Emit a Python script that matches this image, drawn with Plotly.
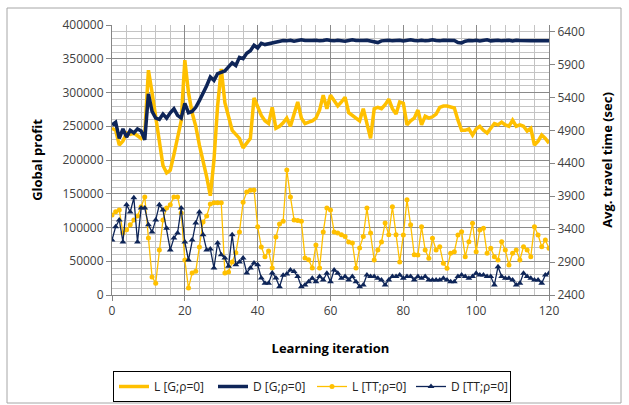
import plotly.graph_objects as go

iterations = list(range(121))

# Global profit, learning agents (L) and default agents (D)
profit_L = [
    247000, 244000, 222000, 228000, 240000, 238000, 240000, 236000, 232000, 240000,
    333000, 300000, 262000, 232000, 192000, 181000, 185000, 208000, 232000, 258000,
    348000, 300000, 270000, 250000, 222000, 200000, 175000, 147000, 200000, 280000,
    335000, 285000, 265000, 244000, 238000, 232000, 218000, 226000, 232000, 292000,
    280000, 266000, 258000, 254000, 278000, 247000, 250000, 255000, 262000, 250000,
    268000, 286000, 262000, 254000, 256000, 258000, 262000, 274000, 296000, 276000,
    296000, 288000, 280000, 286000, 293000, 270000, 266000, 262000, 258000, 276000,
    252000, 232000, 276000, 278000, 276000, 282000, 290000, 276000, 268000, 286000,
    284000, 252000, 258000, 262000, 274000, 252000, 265000, 262000, 264000, 268000,
    278000, 280000, 280000, 279000, 277000, 259000, 244000, 244000, 246000, 237000,
    246000, 250000, 244000, 240000, 247000, 254000, 252000, 256000, 252000, 250000,
    259000, 250000, 252000, 250000, 243000, 247000, 222000, 228000, 237000, 232000,
    225000,
]
profit_D = [
    252000, 256000, 232000, 246000, 234000, 244000, 240000, 246000, 243000, 230000,
    298000, 272000, 262000, 260000, 268000, 262000, 270000, 276000, 266000, 262000,
    284000, 270000, 272000, 278000, 288000, 298000, 310000, 323000, 318000, 328000,
    330000, 332000, 338000, 344000, 340000, 352000, 350000, 358000, 362000, 370000,
    366000, 373000, 371000, 372000, 374000, 374000, 375000, 377000, 376500, 377500,
    376000, 377000, 378000, 377000, 376500, 377000, 377500, 376500, 377000, 378000,
    377000, 376500, 377500, 377000, 376000, 377000, 378000, 377000, 376500, 377000,
    377500, 376500, 375000, 374000, 376500, 377000, 377500, 376500, 377000, 377500,
    376500, 377000, 378000, 377000, 376500, 377500, 376500, 377000, 378000, 377000,
    376500, 377500, 377000, 376500, 377000, 374000, 373500, 376000, 377000, 376500,
    377500, 376500, 377000, 378000, 376500, 377000, 377500, 376500, 377000, 377500,
    376500, 377500, 377000, 376500, 376500, 376500, 376500, 376500, 376500, 376500,
    376500,
]

# Average travel time in seconds
travel_L = [
    3615, 3665, 3690, 3340, 3390, 3465, 3540, 3600, 3740, 3890,
    3265, 2675, 2580, 3085, 3540, 3720, 3770, 3890, 3890, 3645,
    2930, 2505, 2735, 2760, 3130, 3510, 3600, 3780, 3800, 3800,
    3800, 2735, 2750, 2900, 3040, 3355, 3810, 3965, 3990, 3995,
    3435, 3130, 2980, 3070, 2810, 3280, 3480, 3520, 4300, 3890,
    3540, 3530, 3520, 2960, 2935, 2810, 3160, 2810, 3355, 3720,
    3690, 3355, 3340, 3315, 3290, 3205, 3190, 2810, 3115, 3290,
    3720, 3340, 2930, 3085, 3205, 3495, 3315, 3740, 3315, 2900,
    3310, 3845, 3465, 3010, 3008, 3438, 3083, 2957, 3261, 3083,
    3134, 2881, 2805, 3033, 3058, 3311, 3362, 2982, 3210, 3489,
    3058, 3387, 3413, 3033, 3109, 2982, 2932, 3210, 3083, 2856,
    3033, 3083, 2932, 3134, 3083, 2982, 3438, 3311, 3134, 3235,
    3109,
]
travel_D = [
    3235, 3435, 3540, 3205, 3770, 3660, 3875, 3205, 3720, 3720,
    3465, 3355, 3540, 3770, 3690, 3415, 3085, 3265, 3340, 3720,
    3205, 2930, 3235, 3495, 3660, 3315, 3085, 3100, 2810, 3190,
    3010, 2960, 2835, 3315, 2860, 2900, 2960, 2735, 2810, 2885,
    2860, 2660, 2580, 2580, 2735, 2660, 2526, 2700, 2720, 2780,
    2755, 2680, 2526, 2552, 2600, 2653, 2602, 2680, 2628, 2730,
    2602, 2780, 2730, 2653, 2680, 2628, 2680, 2602, 2526, 2552,
    2704, 2680, 2680, 2653, 2628, 2552, 2628, 2680, 2680, 2704,
    2653, 2680, 2680, 2628, 2680, 2653, 2680, 2628, 2628, 2628,
    2628, 2653, 2628, 2602, 2602, 2680, 2704, 2680, 2653, 2680,
    2730, 2704, 2704, 2680, 2680, 2552, 2830, 2680, 2653, 2653,
    2628, 2552, 2577, 2730, 2680, 2653, 2628, 2628, 2577, 2704,
    2730,
]

names = ["L [G;ρ=0]", "D [G;ρ=0]", "L [TT;ρ=0]", "D [TT;ρ=0]"]
x_ticks = [0, 20, 40, 60, 80, 100, 120]

GOLD = "#FFC000"
NAVY = "#0E2558"
FONT = "Open Sans"

fig = go.Figure()
fig.add_trace(go.Scatter(x=iterations, y=profit_L, name=names[0], mode="lines",
                         line=dict(color=GOLD, width=3.5)))
fig.add_trace(go.Scatter(x=iterations, y=profit_D, name=names[1], mode="lines",
                         line=dict(color=NAVY, width=3.5)))
fig.add_trace(go.Scatter(x=iterations, y=travel_L, name=names[2], mode="lines+markers",
                         line=dict(color=GOLD, width=1.3),
                         marker=dict(symbol="circle", size=5, color=GOLD),
                         yaxis="y2"))
fig.add_trace(go.Scatter(x=iterations, y=travel_D, name=names[3], mode="lines+markers",
                         line=dict(color=NAVY, width=1.3),
                         marker=dict(symbol="triangle-up", size=6, color=NAVY),
                         yaxis="y2"))

# pixel helpers for paper-space shapes (plot area spans 112..549 x 25..295)
def px_x(p):
    return (p - 112) / 437.0

def px_y(p):
    return (295 - p) / 270.0

fig.update_layout(
    width=629, height=405,
    margin=dict(l=112, r=80, t=25, b=110, autoexpand=False),
    paper_bgcolor="white", plot_bgcolor="white",
    font=dict(family=FONT, size=12, color="#404040"),
    showlegend=True,
    legend=dict(
        orientation="h", x=px_x(113), y=px_y(371), xanchor="left", yanchor="top",
        bordercolor="#000000", borderwidth=1, bgcolor="white",
        font=dict(family=FONT, size=12, color="#222222"),
        entrywidth=54, entrywidthmode="pixels", itemwidth=30,
        traceorder="normal",
    ),
    xaxis=dict(
        range=[0, 120], tickmode="array", tickvals=x_ticks,
        showline=True, linecolor="#868686", linewidth=1, mirror=False,
        showgrid=True, gridcolor="#8a8a8a", gridwidth=1,
        ticks="outside", ticklen=5, tickcolor="#868686",
        minor=dict(dtick=4, showgrid=True, gridcolor="#c4c4c4", gridwidth=1),
        zeroline=False,
        tickfont=dict(size=12, color="#404040"),
        title=dict(text="<b>Learning iteration</b>", standoff=25,
                   font=dict(size=13, color="#000000")),
    ),
    yaxis=dict(
        range=[0, 400000], tick0=0, dtick=50000,
        showline=True, linecolor="#868686", linewidth=1,
        showgrid=True, gridcolor="#8a8a8a", gridwidth=1,
        ticks="outside", ticklen=5, tickcolor="#868686",
        minor=dict(dtick=10000, showgrid=True, gridcolor="#c4c4c4", gridwidth=1),
        zeroline=False, tickformat="d",
        tickfont=dict(size=12, color="#404040"),
        title=dict(text="<b>Global profit</b>", standoff=16,
                   font=dict(size=13, color="#000000")),
    ),
    yaxis2=dict(
        overlaying="y", side="right", anchor="x",
        range=[2400, 6500], tick0=2400, dtick=500,
        showline=True, linecolor="#868686", linewidth=1,
        showgrid=False, zeroline=False,
        ticks="outside", ticklen=5, tickcolor="#868686",
        tickformat="d",
        tickfont=dict(size=12, color="#404040"),
        title=dict(text="<b>Avg. travel time (sec)</b>", standoff=18,
                   font=dict(size=13, color="#000000")),
    ),
    shapes=[
        dict(type="rect", xref="paper", yref="paper",
             x0=px_x(7), x1=px_x(621), y0=px_y(403), y1=px_y(8),
             line=dict(color="#a6a6a6", width=1), fillcolor="rgba(0,0,0,0)",
             layer="below"),
    ],
)

fig.write_html("out.html")
